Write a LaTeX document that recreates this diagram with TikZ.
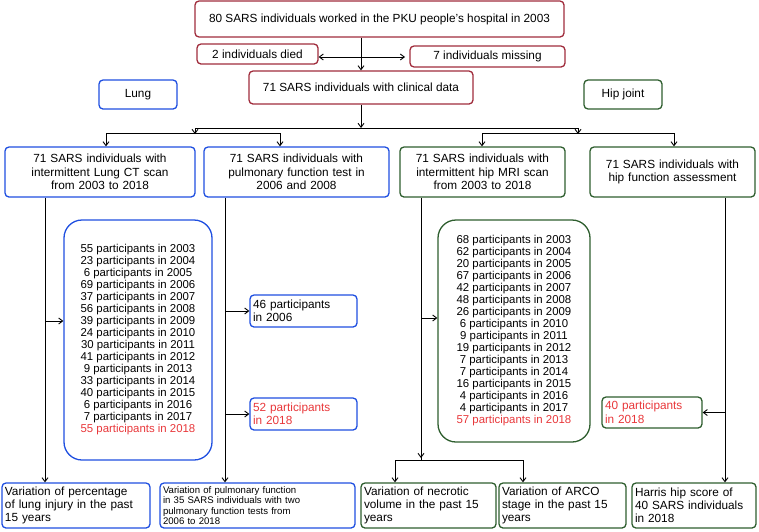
\documentclass[tikz,border=0pt]{standalone}
\usepackage{fontspec}
\setmainfont{Liberation Sans}
\usetikzlibrary{arrows.meta}
\definecolor{rr}{HTML}{A02C3C}
\definecolor{bb}{HTML}{1F4FE0}
\definecolor{gg}{HTML}{2E5E2E}
\definecolor{tr}{HTML}{E8373A}
\begin{document}
\begin{tikzpicture}[x=1pt,y=-1pt,
 box/.style={draw,line width=1.3pt,rounded corners=4pt,inner sep=2pt,align=center,font=\fontsize{11.8}{13.5}\selectfont},
 rbox/.style={box,draw=rr},
 bbox/.style={box,draw=bb},
 gbox/.style={box,draw=gg},
 lbox/.style={rounded corners=18pt,font=\fontsize{11.4}{12}\selectfont},
 arr/.style={-{Straight Barb[length=4pt,width=6pt]},line width=0.9pt},
 ln/.style={line width=0.9pt}]
\useasboundingbox (0,0) rectangle (759,531);
\node[rbox,minimum width=369,minimum height=36] (top) at (379.5,19) {80 SARS individuals worked in the PKU people's hospital in 2003};
\node[rbox,minimum width=121,minimum height=20] (died) at (257.5,54) {2 individuals died};
\node[rbox,minimum width=155,minimum height=21] (miss) at (487.5,56.5) {7 individuals missing};
\node[rbox,minimum width=224,minimum height=33] (clin) at (361,87.5) {71 SARS individuals with clinical data};
\node[bbox,minimum width=78,minimum height=29] (lung) at (138,94.5) {Lung};
\node[gbox,minimum width=78,minimum height=29] (hip) at (623,94.5) {Hip joint};
\node[bbox,minimum width=190,minimum height=50,text width=184] (b1) at (100,172) {71 SARS individuals with\\intermittent Lung CT scan\\from 2003 to 2018};
\node[bbox,minimum width=185,minimum height=50,text width=179] (b2) at (296.5,172) {71 SARS individuals with\\pulmonary function test in\\2006 and 2008};
\node[gbox,minimum width=165,minimum height=50,text width=161] (g1) at (482.5,172) {71 SARS individuals with\\intermittent hip MRI scan\\from 2003 to 2018};
\node[gbox,minimum width=165,minimum height=50,text width=159] (g2) at (672.5,172) {71 SARS individuals with\\hip function assessment};
\node[bbox,lbox,minimum width=148,minimum height=240] (bl) at (138,340) {55 participants in 2003\\23 participants in 2004\\6 participants in 2005\\69 participants in 2006\\37 participants in 2007\\56 participants in 2008\\39 participants in 2009\\24 participants in 2010\\30 participants in 2011\\41 participants in 2012\\9 participants in 2013\\33 participants in 2014\\40 participants in 2015\\6 participants in 2016\\7 participants in 2017\\\textcolor{tr}{55 participants in 2018}};
\node[gbox,lbox,minimum width=152,minimum height=222] (gl) at (514,331) {68 participants in 2003\\62 participants in 2004\\20 participants in 2005\\67 participants in 2006\\42 participants in 2007\\48 participants in 2008\\26 participants in 2009\\6 participants in 2010\\9 participants in 2011\\19 participants in 2012\\7 participants in 2013\\7 participants in 2014\\16 participants in 2015\\4 participants in 2016\\4 participants in 2017\\\textcolor{tr}{57 participants in 2018}};
\node[bbox,minimum width=107,minimum height=32,text width=101,align=left] (p46) at (303.5,311) {46 participants\\in 2006};
\node[bbox,minimum width=107,minimum height=32,text width=101,align=left,text=tr] (p52) at (303.5,414) {52 participants\\in 2018};
\node[gbox,minimum width=100,minimum height=31,text width=94,align=left,text=tr] (p40) at (652,412.5) {40 participants\\in 2018};
\node[bbox,minimum width=148,minimum height=45,text width=142,align=left,font=\fontsize{11.8}{13}\selectfont] (o1) at (76,505.5) {Variation of percentage\\of lung injury in the past\\15 years};
\node[bbox,minimum width=195,minimum height=45,text width=189,align=left,font=\fontsize{9.6}{10.6}\selectfont] (o2) at (257.5,505.5) {Variation of pulmonary function\\in 35 SARS individuals with two\\pulmonary function tests from\\2006 to 2018};
\node[gbox,minimum width=135,minimum height=45,text width=129,align=left,font=\fontsize{11.8}{13}\selectfont] (o3) at (428.5,505.5) {Variation of necrotic\\volume in the past 15\\years};
\node[gbox,minimum width=127,minimum height=45,text width=121,align=left,font=\fontsize{11.8}{13}\selectfont] (o4) at (562.5,505.5) {Variation of ARCO\\stage in the past 15\\years};
\node[gbox,minimum width=124,minimum height=45,text width=118,align=left,font=\fontsize{11.8}{13}\selectfont] (o5) at (694,505.5) {Harris hip score of\\40 SARS individuals\\in 2018};
% top flow
\draw[arr] (top.south -| clin) -- (clin.north);
\coordinate (dl) at (died.east |- 0,57);
\coordinate (dr) at (405,57);
\draw[{Straight Barb[length=4pt,width=6pt]}-{Straight Barb[length=4pt,width=6pt]},line width=0.9pt] (dl) -- (dr);
\draw[arr] (clin.south) -- (361,128) coordinate (j);
\draw[ln] (195,128) -- (578,128);
\draw[arr] (195,128) -- (195,134);
\draw[arr] (578,128) -- (578,134);
\draw[ln] (106,133) -- (280,133);
\draw[ln] (482,133) -- (674,133);
\draw[arr] (106,133) -- (b1.north -| 106,0);
\draw[arr] (280,133) -- (b2.north -| 280,0);
\draw[arr] (482,133) -- (g1.north -| 482,0);
\draw[arr] (674,133) -- (g2.north -| 674,0);
% lung
\draw[arr] (b1.south -| 45,0) -- (o1.north -| 45,0);
\draw[arr] (45,321) -- (bl.west |- 45,321);
\draw[arr] (b2.south -| 225,0) -- (o2.north -| 225,0);
\draw[arr] (225,311) -- (p46.west);
\draw[arr] (225,414) -- (p52.west);
% hip
\draw[ln] (g1.south -| 421,0) -- (421,460);
\draw[arr] (421,318) -- (gl.west |- 421,318);
\draw[arr] (421,440) -- (421,458);
\draw[ln] (395,460) -- (523,460);
\draw[arr] (395,460) -- (o3.north -| 395,0);
\draw[arr] (523,460) -- (o4.north -| 523,0);
\draw[arr] (g2.south -| 725,0) -- (o5.north -| 725,0);
\draw[arr] (725,412.5) -- (p40.east);
\end{tikzpicture}
\end{document}
